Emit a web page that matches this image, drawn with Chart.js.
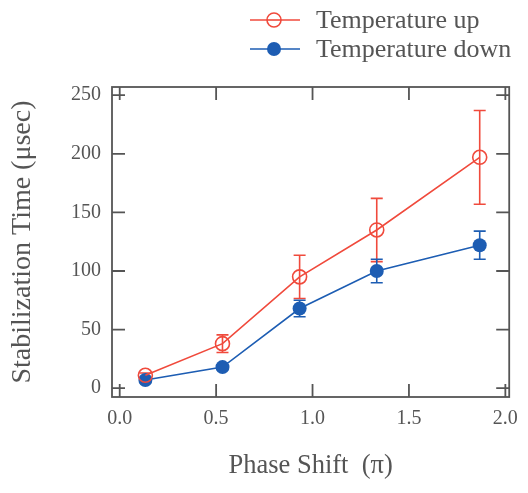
<!DOCTYPE html>
<html>
<head>
<meta charset="utf-8">
<script src="https://cdn.jsdelivr.net/npm/chart.js@4/dist/chart.umd.min.js"></script>
<style>
    html, body { margin: 0; padding: 0; background: #fff; }
    #wrap { width: 528px; height: 493px; }
</style>
</head>
<body>
<div id="wrap"><canvas id="chart"></canvas></div>
<script>
// Data
const phaseShift = [0.133, 0.533, 0.933, 1.333, 1.867];
const tempUp = [11, 38, 95, 135, 197];
const tempUpErr = [2, 7.5, 18.5, 27, 40];
const tempDown = [7, 18, 68, 100, 122];
const tempDownErr = [2, 2, 7, 10, 12];
const xTicks = [0, 0.5, 1.0, 1.5, 2.0];
const yTicks = [0, 50, 100, 150, 200, 250];
const seriesNames = ['Temperature up', 'Temperature down'];

const RED = '#f04a3c';
const BLUE = '#1d5db3';
const INK = '#555';
const SERIF = "'Liberation Serif', 'DejaVu Serif', serif";

const toPoints = (xs, ys) => xs.map((x, i) => ({ x: x, y: ys[i] }));

// Error bars, drawn through the chart scales
const errorBars = {
    id: 'errorBars',
    beforeDatasetsDraw(chart) {
        const ctx = chart.ctx;
        const xs = chart.scales.x, ys = chart.scales.y;
        chart.data.datasets.forEach(ds => {
            ctx.save();
            ctx.strokeStyle = ds.borderColor;
            ctx.lineWidth = 1.6;
            ds.data.forEach((p, i) => {
                const e = ds.errors[i];
                const px = xs.getPixelForValue(p.x);
                const top = ys.getPixelForValue(p.y + e);
                const bot = ys.getPixelForValue(p.y - e);
                ctx.beginPath();
                ctx.moveTo(px, top); ctx.lineTo(px, bot);
                ctx.moveTo(px - 6, top); ctx.lineTo(px + 6, top);
                ctx.moveTo(px - 6, bot); ctx.lineTo(px + 6, bot);
                ctx.stroke();
            });
            ctx.restore();
        });
    }
};

// Frame with inward ticks on all four sides
const frame = {
    id: 'frame',
    afterDatasetsDraw(chart) {
        const { ctx, chartArea: a } = chart;
        const xs = chart.scales.x, ys = chart.scales.y;
        const len = 13;
        ctx.save();
        ctx.strokeStyle = INK;
        ctx.lineWidth = 1.8;
        ctx.strokeRect(a.left, a.top, a.right - a.left, a.bottom - a.top);
        ctx.beginPath();
        xTicks.forEach(v => {
            const px = xs.getPixelForValue(v);
            ctx.moveTo(px, a.bottom); ctx.lineTo(px, a.bottom - len);
            ctx.moveTo(px, a.top); ctx.lineTo(px, a.top + len);
        });
        yTicks.forEach(v => {
            const py = ys.getPixelForValue(v);
            ctx.moveTo(a.left, py); ctx.lineTo(a.left + len, py);
            ctx.moveTo(a.right, py); ctx.lineTo(a.right - len, py);
        });
        ctx.stroke();
        ctx.restore();
    }
};

// Legend: line with marker, then label
const lineLegend = {
    id: 'lineLegend',
    afterDraw(chart) {
        const ctx = chart.ctx;
        const rows = [20, 49];
        ctx.save();
        chart.data.datasets.forEach((ds, i) => {
            const y = rows[i];
            ctx.strokeStyle = ds.borderColor;
            ctx.lineWidth = 1.6;
            ctx.beginPath();
            ctx.moveTo(250, y); ctx.lineTo(300, y);
            ctx.stroke();
            ctx.beginPath();
            ctx.arc(274, y, 7, 0, Math.PI * 2);
            if (ds.filled) {
                ctx.fillStyle = ds.borderColor;
                ctx.fill();
            } else {
                ctx.fillStyle = '#fff';
                ctx.fill();
                ctx.stroke();
                ctx.beginPath();
                ctx.moveTo(267, y); ctx.lineTo(281, y);
                ctx.stroke();
            }
            ctx.fillStyle = INK;
            ctx.font = '26px ' + SERIF;
            ctx.textBaseline = 'middle';
            ctx.textAlign = 'left';
            ctx.fillText(ds.label, 316, y + 1);
        });
        ctx.restore();
    }
};

new Chart(document.getElementById('chart'), {
    type: 'line',
    data: {
        datasets: [
            {
                label: seriesNames[0],
                data: toPoints(phaseShift, tempUp),
                errors: tempUpErr,
                filled: false,
                borderColor: RED,
                backgroundColor: 'rgba(0,0,0,0)',
                borderWidth: 1.6,
                pointRadius: 7,
                pointBorderWidth: 1.6,
                pointBackgroundColor: 'rgba(0,0,0,0)',
                pointBorderColor: RED
            },
            {
                label: seriesNames[1],
                data: toPoints(phaseShift, tempDown),
                errors: tempDownErr,
                filled: true,
                borderColor: BLUE,
                backgroundColor: BLUE,
                borderWidth: 1.6,
                pointRadius: 7,
                pointBorderWidth: 0,
                pointBackgroundColor: BLUE,
                pointBorderColor: BLUE
            }
        ]
    },
    options: {
        responsive: true,
        maintainAspectRatio: false,
        animation: false,
        layout: { padding: { top: 87, right: 15, left: 0, bottom: 0 } },
        plugins: {
            legend: { display: false },
            tooltip: { enabled: false }
        },
        scales: {
            x: {
                type: 'linear',
                min: -0.04,
                max: 2.02,
                afterBuildTicks: s => { s.ticks = xTicks.map(v => ({ value: v })); },
                afterFit: s => { s.height = 96; },
                grid: { display: false, drawTicks: false },
                border: { display: false },
                ticks: {
                    padding: 10,
                    color: INK,
                    font: { family: SERIF, size: 20 },
                    callback: v => v.toFixed(1)
                },
                title: {
                    display: true,
                    text: 'Phase Shift  (\u03c0)',
                    color: INK,
                    font: { family: SERIF, size: 26.5 },
                    padding: { top: 0, bottom: 11 }
                }
            },
            y: {
                type: 'linear',
                min: -7.5,
                max: 257,
                afterBuildTicks: s => { s.ticks = yTicks.map(v => ({ value: v })); },
                afterFit: s => { s.width = 112; },
                grid: { display: false, drawTicks: false },
                border: { display: false },
                ticks: {
                    padding: 11,
                    color: INK,
                    font: { family: SERIF, size: 20 }
                },
                title: {
                    display: true,
                    text: 'Stabilization Time (\u03bcsec)',
                    color: INK,
                    font: { family: SERIF, size: 28 },
                    padding: { top: 6, bottom: 0 }
                }
            }
        }
    },
    plugins: [errorBars, frame, lineLegend]
});
</script>
</body>
</html>
